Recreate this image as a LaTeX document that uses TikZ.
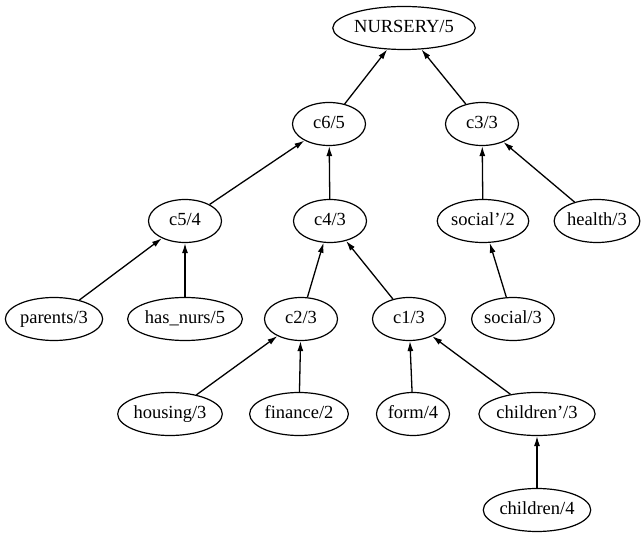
\documentclass[tikz,border=0pt]{standalone}
\usepackage{fontspec}
\setmainfont{Liberation Serif}
\usetikzlibrary{shapes.geometric,arrows.meta}
\begin{document}
\begin{tikzpicture}[x=1pt,y=-1pt,
  attr/.style={ellipse,draw,line width=1.2pt,inner xsep=0.5pt,inner ysep=6pt,
    minimum width=73pt,minimum height=43pt,text height=13pt,text depth=4pt,
    font=\fontsize{18.5}{20}\selectfont},
  link/.style={line width=1.3pt,-{Latex[length=10pt,width=6pt]}}]
\useasboundingbox (0,0) rectangle (643,534);
% attributes and concepts
\node[attr] (nur) at (404,28) {NURSERY/5};
\node[attr] (c6) at (329,124) {c6/5};
\node[attr] (c3) at (482,124) {c3/3};
\node[attr] (c5) at (185,221) {c5/4};
\node[attr] (c4) at (330,221) {c4/3};
\node[attr] (socp) at (483,221) {social'/2};
\node[attr] (hea) at (597,221) {health/3};
\node[attr] (par) at (54,319) {parents/3};
\node[attr] (has) at (185,319) {has\_nurs/5};
\node[attr] (c2) at (301,319) {c2/3};
\node[attr] (c1) at (409,319) {c1/3};
\node[attr] (soc) at (513,319) {social/3};
\node[attr] (hou) at (170,414) {housing/3};
\node[attr] (fin) at (299,414) {finance/2};
\node[attr] (for) at (413,414) {form/4};
\node[attr] (chp) at (537,414) {children'/3};
\node[attr] (chi) at (537,510) {children/4};
% hierarchy links, child to parent
\draw[link] (c6) -- (nur);
\draw[link] (c3) -- (nur);
\draw[link] (c5) -- (c6);
\draw[link] (c4) -- (c6);
\draw[link] (socp) -- (c3);
\draw[link] (hea) -- (c3);
\draw[link] (par) -- (c5);
\draw[link] (has) -- (c5);
\draw[link] (c2) -- (c4);
\draw[link] (c1) -- (c4);
\draw[link] (soc) -- (socp);
\draw[link] (hou) -- (c2);
\draw[link] (fin) -- (c2);
\draw[link] (for) -- (c1);
\draw[link] (chp) -- (c1);
\draw[link] (chi) -- (chp);
\end{tikzpicture}
\end{document}
